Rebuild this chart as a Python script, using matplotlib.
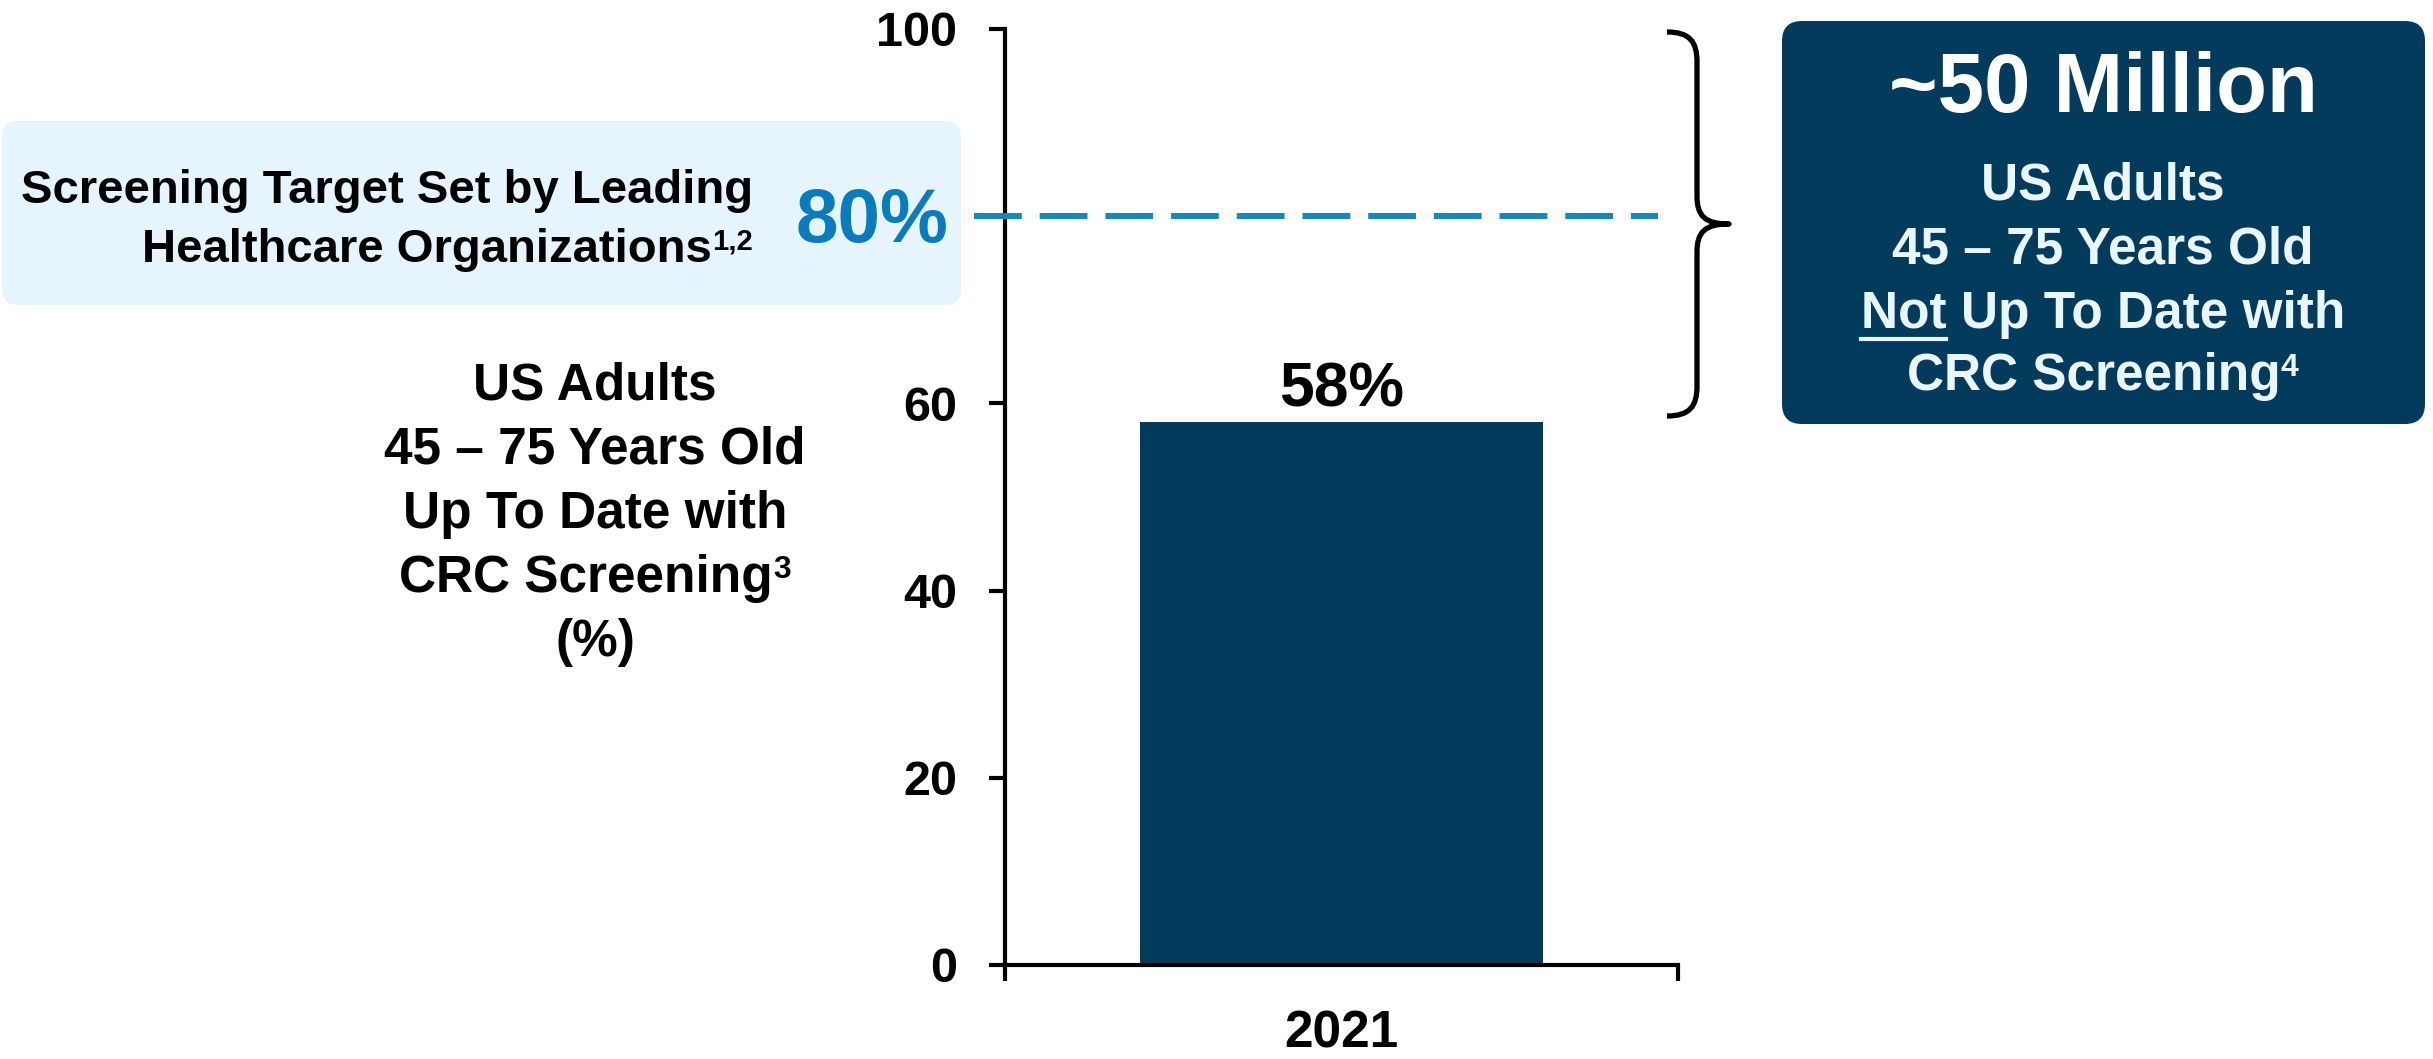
import matplotlib
matplotlib.use('Agg')
import matplotlib.pyplot as plt
from matplotlib.patches import FancyBboxPatch, PathPatch
from matplotlib.path import Path
from matplotlib.lines import Line2D
from matplotlib.transforms import IdentityTransform, blended_transform_factory

# data
years = ['2021']
up_to_date = [58]          # % of US adults 45-75 up to date with CRC screening
target = 80                # screening target (%)
yticks = [0, 20, 40, 60, 100]

W, H = 2433, 1059
NAVY = '#033b5c'
BLUE = '#1488bf'
TEXT_BLUE = '#0a7cbd'
PALE = '#e6f5fd'
BOXTXT = '#e9f6fd'

plt.rcParams['font.family'] = ['Liberation Sans', 'DejaVu Sans']
plt.rcParams['font.weight'] = 'bold'

fig = plt.figure(figsize=(W / 100, H / 100), dpi=100)
pix = IdentityTransform()
def Y(y):  # pixel rows counted from the top
    return H - y

# background panels
fig.add_artist(FancyBboxPatch((2, Y(305)), 959, 184, boxstyle='round,pad=0,rounding_size=16',
                              fc=PALE, ec='none', transform=pix, zorder=0))
fig.add_artist(FancyBboxPatch((1782, Y(424)), 643, 403, boxstyle='round,pad=0,rounding_size=20',
                              fc=NAVY, ec='none', transform=pix, zorder=0))

# bar chart
ax = fig.add_axes([1005 / W, (H - 965) / H, 673 / W, 936 / H])
ax.patch.set_visible(False)
x = range(len(years))
bars = ax.bar(x, up_to_date, width=0.6, color=NAVY, zorder=2)
ax.set_xlim(-0.5, len(years) - 0.5)
ax.set_ylim(0, 100)
ax.set_yticks(yticks)
ax.set_xticks(list(x), years)
ax.set_xticks([-0.5, len(years) - 0.5], minor=True)
for s in ['top', 'right']:
    ax.spines[s].set_visible(False)
for s in ['left', 'bottom']:
    ax.spines[s].set_linewidth(3)
ax.tick_params(axis='y', length=11.5, width=3, pad=23, labelsize=35)
ax.tick_params(axis='x', which='major', length=0, pad=32, labelsize=37)
ax.tick_params(axis='x', which='minor', length=11.5, width=3)

for xi, v in zip(x, up_to_date):
    ax.annotate(f'{v}%', (xi, v), xytext=(0, 11), textcoords='offset points',
                ha='center', va='baseline', fontsize=45)

# target line
tr = blended_transform_factory(pix, ax.transData)
fig.add_artist(Line2D([974, 1658], [target, target], transform=tr, color=BLUE, lw=4.3,
                      linestyle=(0, (8, 3)), zorder=3))
fig.text(949, Y(242), f'{target}%', transform=pix, ha='right', va='baseline',
         fontsize=55, color=TEXT_BLUE)

# brace
bx, bt, bb, tip = 1697, 32, 416, 224
verts = [(1667, bt), (1690, bt), (bx, bt + 10), (bx, bt + 30),
         (bx, tip - 28),
         (bx, tip - 8), (bx + 8, tip), (1729, tip),
         (bx + 8, tip), (bx, tip + 8), (bx, tip + 28),
         (bx, bb - 30),
         (bx, bb - 10), (1690, bb), (1667, bb)]
codes = [Path.MOVETO, Path.CURVE4, Path.CURVE4, Path.CURVE4, Path.LINETO,
         Path.CURVE4, Path.CURVE4, Path.CURVE4, Path.CURVE4, Path.CURVE4, Path.CURVE4,
         Path.LINETO, Path.CURVE4, Path.CURVE4, Path.CURVE4]
verts = [(vx, Y(vy)) for vx, vy in verts]
fig.add_artist(PathPatch(Path(verts, codes), fc='none', ec='black', lw=3.8,
                         transform=pix, capstyle='butt', joinstyle='round'))

r = fig.canvas.get_renderer()

def line(xc, y, s, size, color='black', sup=None, ha='center'):
    t = fig.text(0, 0, s, transform=pix, fontsize=size, color=color, va='baseline', ha='left')
    w1 = t.get_window_extent(r).width
    w2 = 0
    if sup:
        st = fig.text(0, 0, sup, transform=pix, fontsize=size * 0.62, color=color,
                      va='baseline', ha='left')
        w2 = st.get_window_extent(r).width
    total = w1 + w2
    x0 = xc - total / 2 if ha == 'center' else xc - total
    t.set_position((x0, Y(y)))
    if sup:
        st.set_position((x0 + w1, Y(y) + size * 1.389 * 0.716 * 0.38))
    return t, x0

# left labels
line(753, 203, 'Screening Target Set by Leading', 34, ha='right')
line(753, 262, 'Healthcare Organizations', 34, sup='1,2', ha='right')
left_lines = ['US Adults', '45 \u2013 75 Years Old', 'Up To Date with']
for i, s in enumerate(left_lines):
    line(595, 400 + 64 * i, s, 37)
line(595, 592, 'CRC Screening', 37, sup='3')
line(595, 656, '(%)', 37)

# right box
line(2103, 112, '~50 Million', 60, color='white')
line(2103, 200, 'US Adults', 37, color=BOXTXT)
line(2103, 263, '45 \u2013 75 Years Old', 37, color=BOXTXT)
t, x0 = line(2103, 328, 'Not Up To Date with', 37, color=BOXTXT)
tmp = fig.text(0, 0, 'Not', transform=pix, fontsize=37)
wn = tmp.get_window_extent(r).width
tmp.remove()
fig.add_artist(Line2D([x0, x0 + wn], [Y(339), Y(339)], transform=pix, color=BOXTXT, lw=3))
line(2103, 390, 'CRC Screening', 37, color=BOXTXT, sup='4')

fig.savefig('out.png', dpi=100)
